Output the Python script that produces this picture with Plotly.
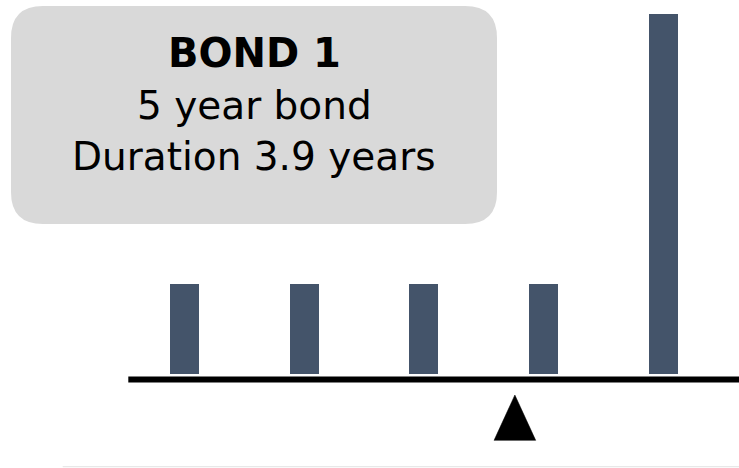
import plotly.graph_objects as go

# ---- data ----
years = [1, 2, 3, 4, 5]
cash_flows = [1, 1, 1, 1, 4]
fulcrum_x = 3.76
title_lines = ["BOND 1", "5 year bond", "Duration 3.9 years"]

W, H = 739, 468
BAR_COLOR = "#44546A"

def px(x):
    return x / W

def py(y):
    return 1 - y / H

fig = go.Figure()
fig.add_trace(go.Bar(
    x=years, y=cash_flows, width=0.242,
    marker=dict(color=BAR_COLOR, line=dict(width=0)),
    hoverinfo="skip", showlegend=False,
))

# fulcrum triangle (data coords)
hw = 0.174
tri_top, tri_bot = -0.233, -0.737
fig.add_trace(go.Scatter(
    x=[fulcrum_x - hw, fulcrum_x + hw, fulcrum_x, fulcrum_x - hw],
    y=[tri_bot, tri_bot, tri_top, tri_bot],
    mode="lines", fill="toself", fillcolor="black",
    line=dict(color="black", width=0.5),
    hoverinfo="skip", showlegend=False,
))

shapes = []
shapes.append(dict(type="line", xref="paper", yref="y",
                   x0=px(128.3), x1=1, y0=-0.062, y1=-0.062,
                   line=dict(color="black", width=6)))
shapes.append(dict(type="line", xref="paper", yref="paper",
                   x0=px(62.7), x1=1, y0=py(466.7), y1=py(466.7),
                   line=dict(color="#e8e8e8", width=1.2)))
x0, x1, y0, y1, r = 11, 497, 6, 224, 32
path = (f"M {px(x0+r)},{py(y0)} L {px(x1-r)},{py(y0)} "
        f"Q {px(x1)},{py(y0)} {px(x1)},{py(y0+r)} "
        f"L {px(x1)},{py(y1-r)} Q {px(x1)},{py(y1)} {px(x1-r)},{py(y1)} "
        f"L {px(x0+r)},{py(y1)} Q {px(x0)},{py(y1)} {px(x0)},{py(y1-r)} "
        f"L {px(x0)},{py(y0+r)} Q {px(x0)},{py(y0)} {px(x0+r)},{py(y0)} Z")
shapes.append(dict(type="path", xref="paper", yref="paper", path=path,
                   fillcolor="#D9D9D9", line=dict(width=0), layer="below"))

annotations = []
specs = [(53, 40, 700), (106, 39, 400), (157, 39, 400)]
for txt, (cy, size, weight) in zip(title_lines, specs):
    annotations.append(dict(
        text=txt, xref="paper", yref="paper", x=px(254), y=py(cy),
        xanchor="center", yanchor="middle", showarrow=False,
        font=dict(family="DejaVu Sans", size=size, color="black", weight=weight),
    ))

fig.update_layout(
    width=W, height=H, margin=dict(l=0, r=0, t=0, b=0),
    paper_bgcolor="white", plot_bgcolor="white",
    xaxis=dict(range=[-0.5414, 5.6324], visible=False, fixedrange=True),
    yaxis=dict(range=[-1.044, 4.156], visible=False, fixedrange=True),
    shapes=shapes, annotations=annotations, bargap=0,
)
fig.write_html("out.html", config={"displayModeBar": False},
               post_script="document.body.style.margin='0';")
